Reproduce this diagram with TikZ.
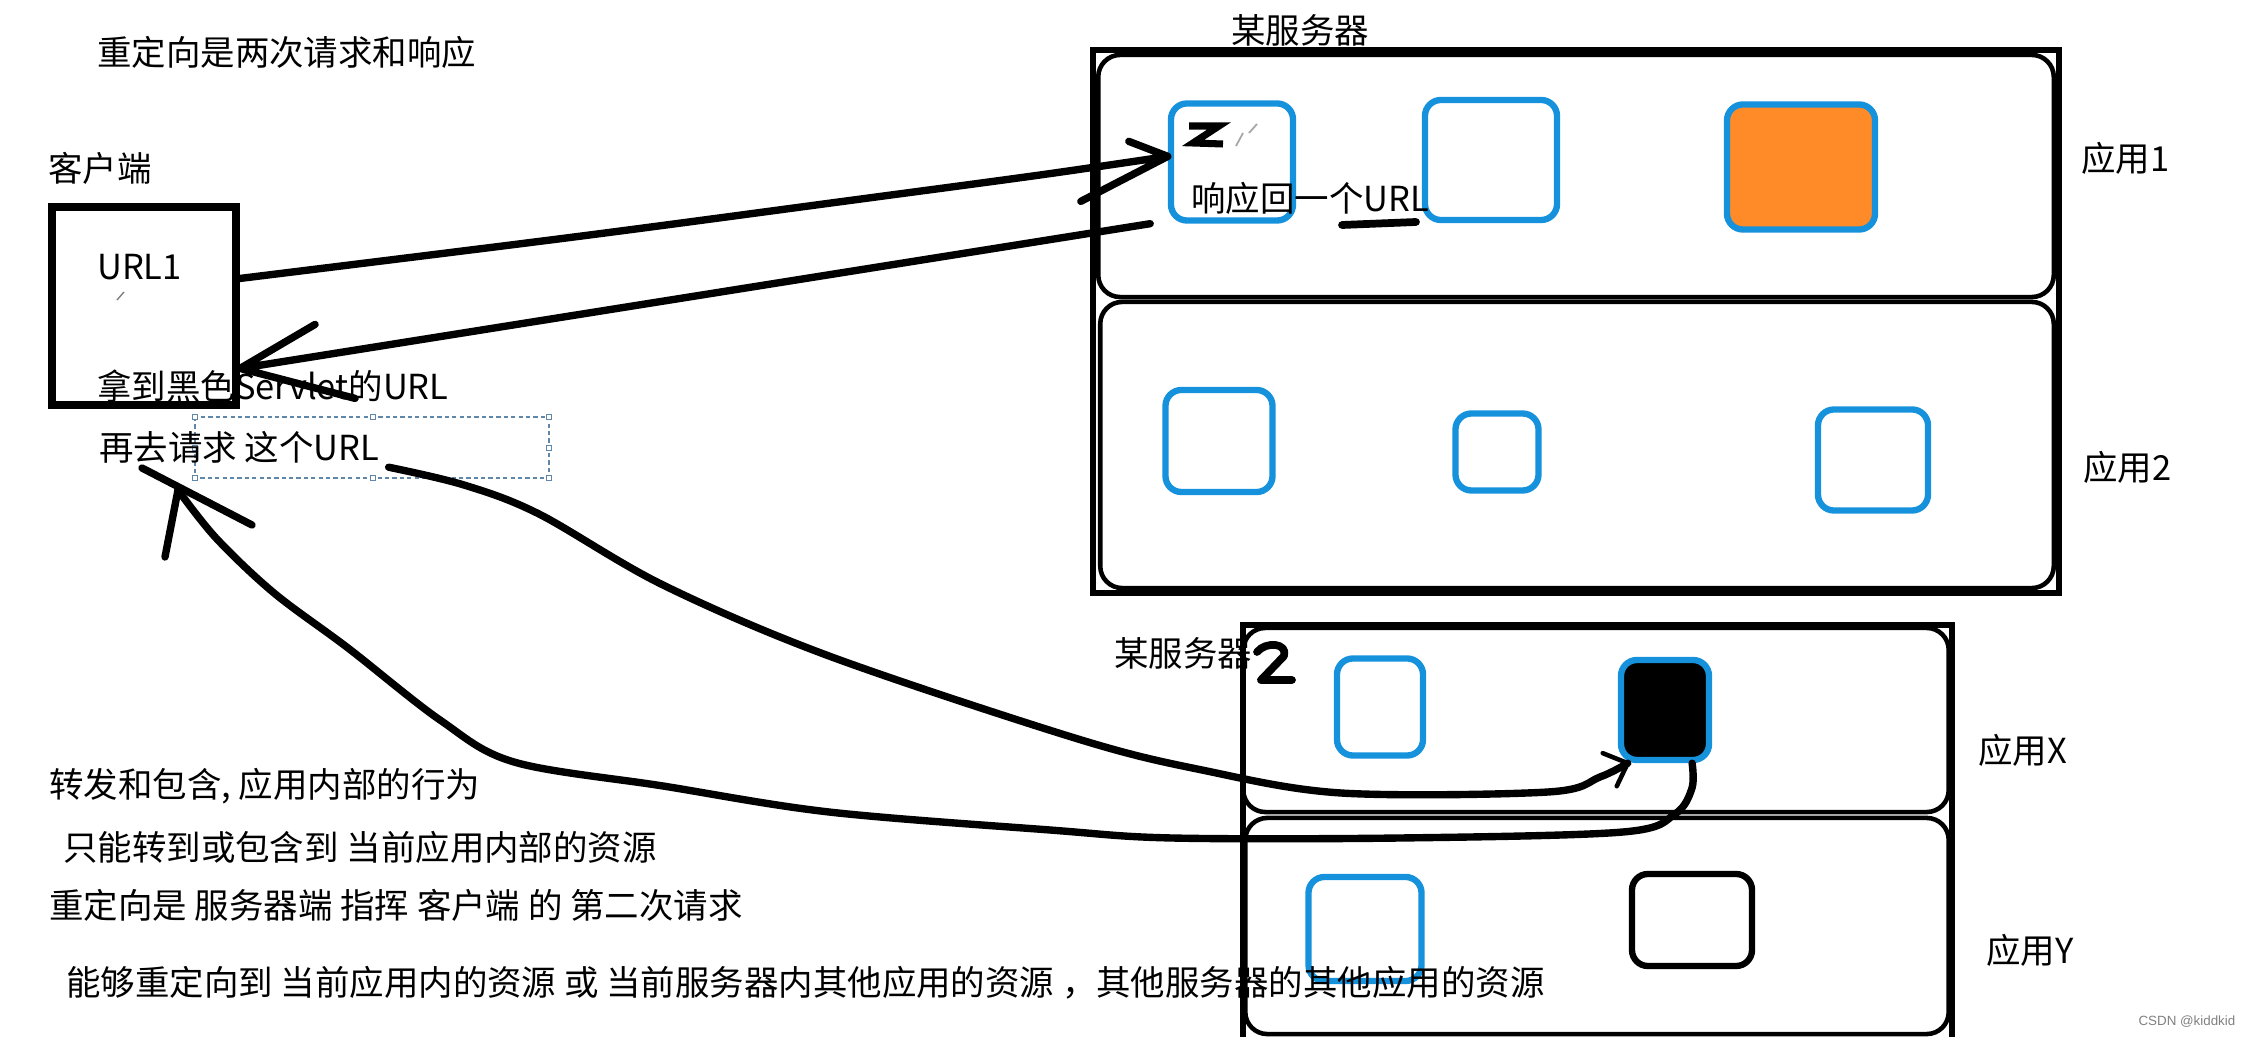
\documentclass[tikz,border=0pt]{standalone}
\usepackage{fontspec}
\newfontfamily\cjk{Noto Sans CJK SC}
\newfontfamily\wmfont{Liberation Sans}
\usepackage{tikz}
\definecolor{compblue}{RGB}{22,146,220}
\definecolor{servorange}{RGB}{255,138,40}
\definecolor{selgray}{RGB}{95,135,170}

\tikzset{
  txt/.style={font=\cjk\fontsize{9.8}{11}\selectfont, inner sep=1pt, anchor=west},
  comp/.style={draw=compblue, line width=1.8pt, rounded corners=0.16cm, inner sep=0pt},
  appframe/.style={draw, line width=1.3pt, rounded corners=0.22cm, inner sep=0pt},
  pen/.style={line width=2.1pt, line cap=round, line join=round},
  handle/.style={draw=selgray, fill=white, line width=0.3pt, minimum size=0.5mm, inner sep=0pt}
}

\begin{document}
\begin{tikzpicture}[x=0.01cm, y=-0.01cm]
\useasboundingbox (0,0) rectangle (2251,1037);

% client side
\node[txt] (title) at (93,52) {重定向是两次请求和响应};
\node[txt] (clientlbl) at (44,168) {客户端};
\node[draw, line width=2.3pt, minimum width=1.84cm, minimum height=1.98cm, inner sep=0pt] (client) at (144,306) {};
\node[txt] (url1) at (93,267) {URL1};
\draw[gray, line width=0.4pt] (117,300) -- (124,292);

% selection frame round the text
\draw[selgray, dash pattern=on 1.2pt off 0.9pt, line width=0.5pt] (195,417) rectangle (549,478);
\foreach \hx/\hy [count=\i] in {195/417, 373/417, 549/417, 549/448, 195/478, 373/478, 549/478, 195/448}
  \node[handle] (hd\i) at (\hx,\hy) {};

\node[txt] (getblack) at (93,386) {拿到黑色Servlet的URL};
\node[txt] (req2) at (95,447) {再去请求 这个URL};

% server 1
\draw[line width=1.9pt] (1093,50) rectangle (2059,593);
\node[appframe, minimum width=9.55cm, minimum height=2.42cm] (app1) at (1576,176) {};
\node[appframe, minimum width=9.53cm, minimum height=2.86cm] (app2) at (1577,445) {};
\node[txt] (srv1lbl) at (1227,30) {某服务器};

\node[comp, minimum width=1.22cm, minimum height=1.17cm] (boxA) at (1232,162) {};
\node[comp, minimum width=1.32cm, minimum height=1.20cm] (boxB) at (1491,160) {};
\node[comp, fill=servorange, minimum width=1.48cm, minimum height=1.25cm] (boxC) at (1801,167) {};
\node[comp, minimum width=1.07cm, minimum height=1.02cm] (boxD) at (1219,441) {};
\node[comp, minimum width=0.83cm, minimum height=0.77cm] (boxE) at (1497,452) {};
\node[comp, minimum width=1.10cm, minimum height=1.01cm] (boxF) at (1873,460) {};
\node[txt] (app1lbl) at (2077,158) {应用1};
\node[txt] (app2lbl) at (2079,467) {应用2};

% scribbles
\draw[line width=2pt] (1189,126) -- (1219,126) -- (1193,143) -- (1223,144);
\draw[gray!70, line width=0.5pt] (1236,146) -- (1243,133) (1249,133) -- (1257,124);
\node[txt] (backurl) at (1187,198) {响应回一个URL};
\draw[line width=2.2pt, line cap=round] (1342,225) -- (1416,222);

% server 2
\draw[line width=1.5pt] (1243,1045) -- (1243,625) -- (1952,625) -- (1952,1045);
\node[appframe, minimum width=7.05cm, minimum height=1.84cm] (appX) at (1596,720) {};
\node[appframe, minimum width=7.03cm, minimum height=2.16cm] (appY) at (1597,926) {};
\node[txt] (srv2lbl) at (1110,653) {某服务器};
\draw[line width=2.2pt, line cap=round, line join=round] (1257,652) .. controls (1266,641) and (1288,643) .. (1284,656) -- (1261,680) -- (1292,680);

\node[comp, minimum width=0.86cm, minimum height=0.97cm] (boxG) at (1380,707) {};
\node[comp, fill=black, minimum width=0.88cm, minimum height=1.00cm] (boxH) at (1665,710) {};
\node[comp, minimum width=1.13cm, minimum height=1.04cm] (boxI) at (1365,929) {};
\node[comp, draw=black, minimum width=1.20cm, minimum height=0.92cm] (boxJ) at (1692,920) {};
\node[txt] (appXlbl) at (1974,750) {应用X};
\node[txt] (appYlbl) at (1982,950) {应用Y};

% notes
\node[txt] (note1) at (45,786) {转发和包含, 应用内部的行为};
\node[txt] (note2) at (59,847) {只能转到或包含到 当前应用内部的资源};
\node[txt] (note3) at (45,905) {重定向是 服务器端 指挥 客户端 的 第二次请求};
\node[txt] (note4) at (62,983) {能够重定向到 当前应用内的资源 或 当前服务器内其他应用的资源 ，其他服务器的其他应用的资源};

\node[font=\wmfont\fontsize{3.8}{4}\selectfont, text=gray, anchor=east, inner sep=0pt] (wm) at (2236,1022) {CSDN @kiddkid};

% hand drawn arrows
\coordinate (backtip) at (178,490);
\draw[pen] plot[smooth, tension=0.55] coordinates {(client.16) (574,237) (861,199) (1040,175) (boxA.175)}
  -- +(-39,-15) (boxA.175) -- +(-87,45);
\draw[pen] ([xshift=-5pt]boxA.south west) -- (client.-33) -- +(75,-44) (client.-33) -- +(115,30);
\draw[pen] plot[smooth, tension=0.55] coordinates {([xshift=1.5pt]req2.south east) (464,485) (539,514)
  (663,585) (829,656) (1078,739) (1202,770) (1341,793) (1548,792) (1600,777) (boxH.-125)};
\draw[pen, line width=1.3pt] (boxH.-125) -- +(-25,-10) (boxH.-125) -- +(-11,23);
\draw[pen] plot[smooth, tension=0.55] coordinates {(boxH.-63) (1692,788) (1675,814) (1623,832)
  (1400,838) (1172,838) (1050,830) (829,812) (663,786) (514,762) (440,720)
  (348,648) (274,593) (216,538) (backtip)};
\draw[pen] (backtip) ++(-36,-22) -- ++(110,57) (backtip) -- +(-13,67);
\end{tikzpicture}
\end{document}
